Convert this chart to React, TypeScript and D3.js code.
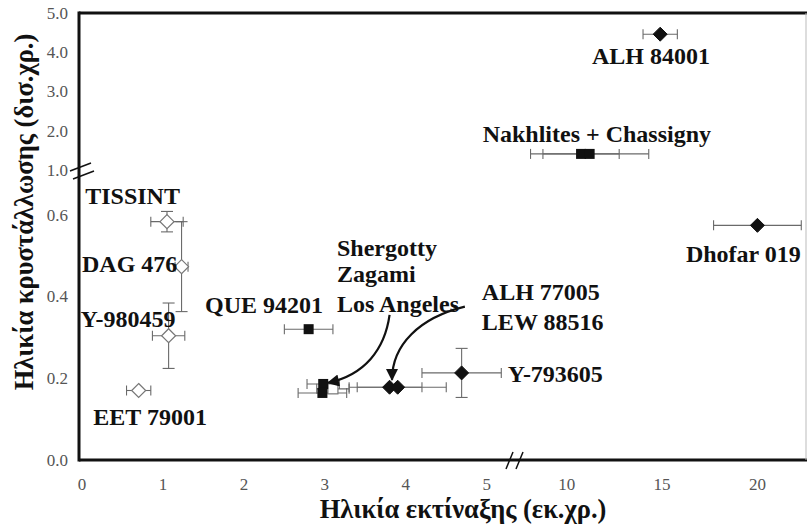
import React from 'react';
import * as d3 from 'd3';

// x: ejection age (Ma), y: crystallization age (Ga)
type Pt = { name: string; x: number; xe: number; y: number; ye: number; sym: string };

const openDiamonds: Pt[] = [
  { name: 'TISSINT', x: 1.05, xe: 0.2, y: 0.583, ye: 0.025, sym: 'od' },
  { name: 'DAG 476', x: 1.23, xe: 0.08, y: 0.473, ye: 0.11, sym: 'od' },
  { name: 'Y-980459', x: 1.07, xe: 0.2, y: 0.304, ye: 0.08, sym: 'od' },
  { name: 'EET 79001', x: 0.7, xe: 0.15, y: 0.17, ye: 0, sym: 'od' },
];

const squares: Pt[] = [
  { name: 'QUE 94201', x: 2.8, xe: 0.3, y: 0.32, ye: 0, sym: 'fs' },
  { name: 'Los Angeles', x: 3.1, xe: 0.2, y: 0.174, ye: 0, sym: 'os' },
  { name: 'Shergotty', x: 2.98, xe: 0.2, y: 0.186, ye: 0, sym: 'fs' },
  { name: 'Zagami', x: 2.97, xe: 0.3, y: 0.164, ye: 0, sym: 'fs' },
  { name: 'Nakhlites', x: 10.75, xe: 2.0, y: 1.41, ye: 0, sym: 'fs' },
  { name: 'Chassigny', x: 11.2, xe: 3.1, y: 1.41, ye: 0, sym: 'fs' },
];

const filledDiamonds: Pt[] = [
  { name: 'ALH 77005', x: 3.8, xe: 0.4, y: 0.178, ye: 0, sym: 'fd' },
  { name: 'LEW 88516', x: 3.9, xe: 0.6, y: 0.178, ye: 0, sym: 'fd' },
  { name: 'Y-793605', x: 4.69, xe: 0.49, y: 0.213, ye: 0.06, sym: 'fd' },
  { name: 'ALH 84001', x: 14.9, xe: 0.9, y: 4.46, ye: 0, sym: 'fd' },
  { name: 'Dhofar 019', x: 20.0, xe: 2.3, y: 0.574, ye: 0, sym: 'fd' },
];

// label text, x, y (data units)
const labels: [string, number, number][] = [
  ['TISSINT', 0.04, 0.625],
  ['DAG 476', 0.0, 0.46],
  ['Y-980459', -0.02, 0.326],
  ['EET 79001', 0.14, 0.086],
  ['QUE 94201', 1.52, 0.36],
  ['Shergotty', 3.15, 0.5],
  ['Zagami', 3.15, 0.436],
  ['Los Angeles', 3.15, 0.363],
  ['ALH 77005', 4.94, 0.392],
  ['LEW 88516', 4.94, 0.319],
  ['Y-793605', 5.26, 0.191],
  ['ALH 84001', 11.32, 3.7],
  ['Nakhlites + Chassigny', 4.95, 1.71],
  ['Dhofar 019', 16.25, 0.485],
];

// arrows: start, control 1, control 2, end (data units)
const arrows: [number, number][][] = [
  [[3.8, 0.355], [3.74, 0.27], [3.49, 0.208], [3.04, 0.189]],
  [[4.73, 0.375], [4.17, 0.348], [3.83, 0.282], [3.83, 0.196]],
];

const yTicksLow = [0, 0.2, 0.4, 0.6];
const yTicksHigh = [1, 2, 3, 4, 5];
const xTicksLow = [0, 1, 2, 3, 4, 5];
const xTicksHigh = [10, 15, 20];

const W = 809;
const H = 525;
const left = 79, right = 807, top = 13, bottom = 460;

const xLow = d3.scaleLinear().domain([0, 5.3]).range([82, 511]);
const xHigh = d3.scaleLinear().domain([7.6, 22.6]).range([521, 807]);
const yLow = d3.scaleLinear().domain([0, 0.68]).range([bottom, 182]);
const yHigh = d3.scaleLinear().domain([1, 5]).range([170, top]);

const X = (v: number) => (v <= 6 ? xLow(v) : xHigh(v));
const Y = (v: number) => (v <= 0.8 ? yLow(v) : yHigh(v));

const serif = "'Liberation Serif', 'DejaVu Serif', 'Times New Roman', Times, serif";
const barColor = '#6a6a6a';

function ErrorBars({ p }: { p: Pt }) {
  const cx = X(p.x), cy = Y(p.y);
  const out: JSX.Element[] = [];
  if (p.xe > 0) {
    const x0 = X(p.x - p.xe), x1 = X(p.x + p.xe);
    out.push(<line key="h" x1={x0} x2={x1} y1={cy} y2={cy} />);
    out.push(<line key="hc0" x1={x0} x2={x0} y1={cy - 5} y2={cy + 5} />);
    out.push(<line key="hc1" x1={x1} x2={x1} y1={cy - 5} y2={cy + 5} />);
  }
  if (p.ye > 0) {
    const y0 = Y(p.y - p.ye), y1 = Y(p.y + p.ye);
    out.push(<line key="v" x1={cx} x2={cx} y1={y0} y2={y1} />);
    out.push(<line key="vc0" x1={cx - 6} x2={cx + 6} y1={y0} y2={y0} />);
    out.push(<line key="vc1" x1={cx - 6} x2={cx + 6} y1={y1} y2={y1} />);
  }
  return <g stroke={barColor} strokeWidth={1.1}>{out}</g>;
}

function Marker({ p }: { p: Pt }) {
  const cx = X(p.x), cy = Y(p.y);
  if (p.sym === 'od' || p.sym === 'fd') {
    const r = 7;
    const d = `M${cx},${cy - r}L${cx + r},${cy}L${cx},${cy + r}L${cx - r},${cy}Z`;
    return p.sym === 'od'
      ? <path d={d} fill="#fff" stroke="#777" strokeWidth={1.2} />
      : <path d={d} fill="#111" stroke="#111" strokeWidth={1} />;
  }
  const s = 10;
  return p.sym === 'os'
    ? <rect x={cx - s / 2} y={cy - s / 2} width={s} height={s} fill="#fff" stroke="#777" strokeWidth={1.2} />
    : <rect x={cx - s / 2} y={cy - s / 2} width={s} height={s} fill="#111" />;
}

export default function App() {
  const all = [...openDiamonds, ...squares, ...filledDiamonds];
  const curve = (a: [number, number][]) =>
    `M${X(a[0][0])},${Y(a[0][1])}C${X(a[1][0])},${Y(a[1][1])} ${X(a[2][0])},${Y(a[2][1])} ${X(a[3][0])},${Y(a[3][1])}`;

  return (
    <svg width={W} height={H} style={{ position: 'absolute', left: 0, top: 0, background: '#fff', fontFamily: serif }}>
      <defs>
        <marker id="ah" viewBox="0 0 10 10" refX="9" refY="5" markerWidth="6" markerHeight="5.5" orient="auto">
          <path d="M0,0L10,5L0,10Z" fill="#111" />
        </marker>
      </defs>

      {/* frame */}
      <line x1={left} x2={right} y1={top} y2={top} stroke="#111" strokeWidth={3} />
      <line x1={left} x2={left} y1={top - 1.5} y2={bottom + 1.5} stroke="#111" strokeWidth={3} />
      <line x1={left} x2={right} y1={bottom} y2={bottom} stroke="#111" strokeWidth={3} />
      <line x1={806} x2={806} y1={top} y2={bottom} stroke="#bbb" strokeWidth={1} />

      {/* axis breaks */}
      <g stroke="#111" strokeWidth={1.5}>
        <line x1={70} x2={91} y1={171} y2={163} />
        <line x1={73} x2={94} y1={179} y2={171} />
        <line x1={506} x2={513} y1={469} y2={452} />
        <line x1={516} x2={523} y1={469} y2={452} />
      </g>

      {/* ticks */}
      <g style={{ fontFamily: serif }} fontSize={17} fill="#555">
        {yTicksLow.map((t) => (
          <text key={'yl' + t} x={68} y={yLow(t)} dy="0.35em" textAnchor="end">{t.toFixed(1)}</text>
        ))}
        {yTicksHigh.map((t) => (
          <text key={'yh' + t} x={68} y={yHigh(t)} dy="0.35em" textAnchor="end">{t.toFixed(1)}</text>
        ))}
        {xTicksLow.map((t) => (
          <text key={'xl' + t} x={xLow(t)} y={490} textAnchor="middle">{t}</text>
        ))}
        {xTicksHigh.map((t) => (
          <text key={'xh' + t} x={xHigh(t)} y={490} textAnchor="middle">{t}</text>
        ))}
      </g>

      {/* axis titles */}
      <text x={463} y={518} textAnchor="middle" style={{ fontFamily: serif }} fontWeight="bold" fontSize={26.5} fill="#111">
        Ηλικία εκτίναξης (εκ.χρ.)
      </text>
      <text transform="translate(33,212) rotate(-90)" textAnchor="middle" style={{ fontFamily: serif }} fontWeight="bold" fontSize={26.5} fill="#111">
        Ηλικία κρυστάλλωσης (δισ.χρ.)
      </text>

      {/* data */}
      {all.map((p) => <ErrorBars key={'e' + p.name} p={p} />)}
      {all.map((p) => <Marker key={'m' + p.name} p={p} />)}

      {/* arrows */}
      {arrows.map((a, i) => (
        <path key={'a' + i} d={curve(a as [number, number][])} fill="none" stroke="#111" strokeWidth={2.2} markerEnd="url(#ah)" />
      ))}

      {/* labels */}
      <g style={{ fontFamily: serif }} fontWeight="bold" fontSize={24} fill="#111">
        {labels.map(([t, lx, ly]) => (
          <text key={t} x={X(lx)} y={Y(ly)}>{t}</text>
        ))}
      </g>
    </svg>
  );
}
